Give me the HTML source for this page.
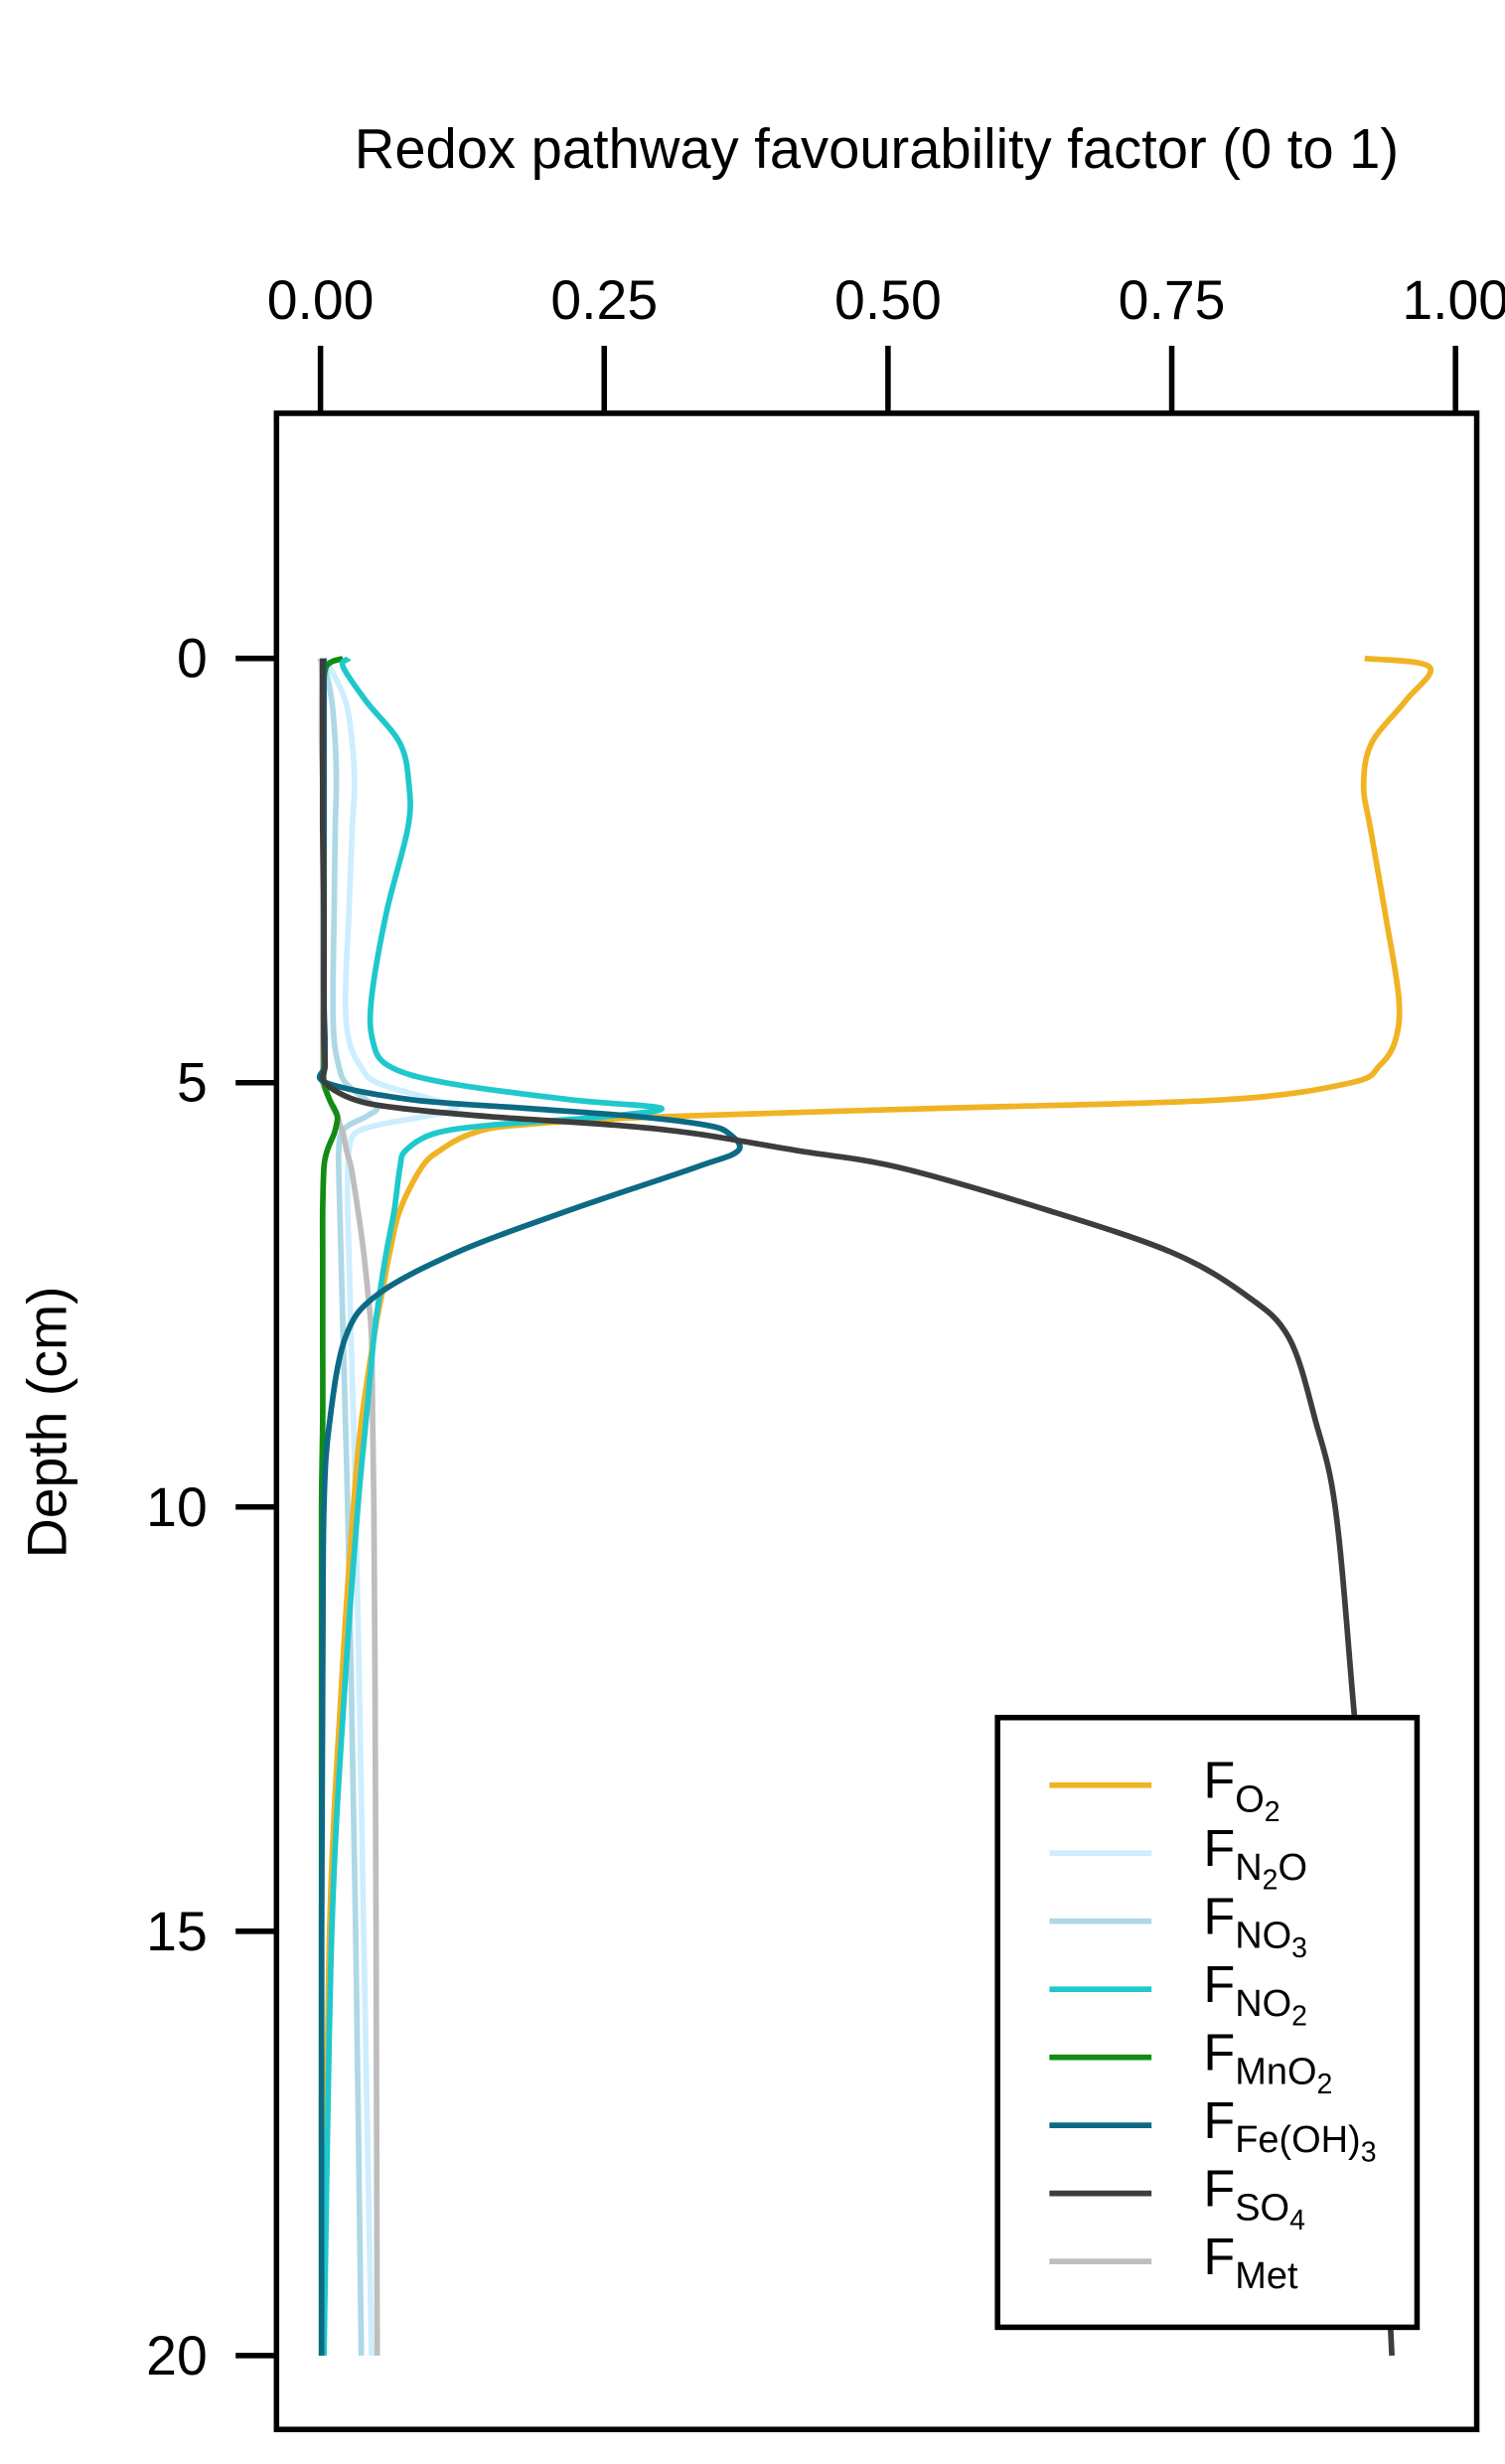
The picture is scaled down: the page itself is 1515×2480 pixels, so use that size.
<!DOCTYPE html>
<html><head><meta charset="utf-8"><style>
html,body{margin:0;padding:0;background:#fff}
svg{display:block;font-family:"Liberation Sans",Arial,sans-serif}
</style></head><body>
<svg id="chart" width="1515" height="2480" viewBox="0 0 958 1568" preserveAspectRatio="none" xmlns="http://www.w3.org/2000/svg">
<text x="558" y="107" font-size="35.5" text-anchor="middle">Redox pathway favourability factor (0 to 1)</text>
<text transform="translate(42,905) rotate(-90)" font-size="35" text-anchor="middle">Depth (cm)</text>
<rect x="176" y="263" width="764" height="1283" fill="none" stroke="#000" stroke-width="3.5"/>
<g id="xaxis"></g>
<g id="yaxis"></g>
<g id="series"></g>
<g id="legend">
<rect x="635" y="1093" width="267" height="388" fill="#fff" stroke="#000" stroke-width="3.5"/>
</g>
</svg>
<script>
const depths=[0,0.1,0.5,1,1.5,2,3,4,4.5,4.8,5,5.2,5.3,5.4,5.5,5.6,5.8,6,6.5,7,7.5,8,9,10,12,15,20];
const fO2=[0.92,0.977,0.956,0.926,0.919,0.925,0.938,0.95,0.947,0.933,0.908,0.797,0.548,0.3,0.174,0.133,0.105,0.089,0.07,0.061,0.054,0.047,0.036,0.029,0.019,0.008,0.003];
const fN2O=[0.003,0.008,0.022,0.028,0.03,0.028,0.025,0.022,0.025,0.035,0.05,0.1,0.12,0.09,0.05,0.03,0.025,0.024,0.024,0.025,0.026,0.027,0.029,0.031,0.034,0.038,0.045];
const fNO3=[0.002,0.004,0.01,0.013,0.014,0.013,0.012,0.011,0.012,0.016,0.022,0.04,0.05,0.04,0.025,0.018,0.016,0.016,0.017,0.018,0.019,0.02,0.022,0.024,0.027,0.031,0.036];
const fNO2=[0.025,0.02,0.04,0.07,0.078,0.077,0.058,0.045,0.046,0.06,0.11,0.22,0.3,0.25,0.15,0.1,0.075,0.07,0.065,0.058,0.052,0.047,0.04,0.033,0.022,0.01,0.003];
const fMnO2=[0.02,0.005,0.003,0.003,0.003,0.003,0.003,0.003,0.003,0.003,0.003,0.008,0.012,0.015,0.014,0.012,0.006,0.003,0.002,0.002,0.002,0.002,0.002,0.001,0.001,0.001,0.001];
const fFe=[0.003,0.003,0.003,0.003,0.003,0.003,0.003,0.003,0.004,0.004,0.005,0.08,0.18,0.28,0.34,0.36,0.368,0.33,0.22,0.12,0.05,0.022,0.008,0.003,0.002,0.001,0.001];
const fSO4=[0.002,0.002,0.002,0.002,0.002,0.002,0.003,0.003,0.003,0.004,0.004,0.03,0.07,0.15,0.26,0.33,0.42,0.51,0.64,0.75,0.815,0.853,0.877,0.894,0.908,0.925,0.944];
const fMet=[0,0.001,0.001,0.001,0.002,0.002,0.002,0.002,0.002,0.002,0.002,0.008,0.011,0.015,0.017,0.02,0.023,0.027,0.033,0.038,0.042,0.045,0.046,0.047,0.048,0.049,0.05];
const xTicks=[0,0.25,0.5,0.75,1];
const xTickLabels=["0.00","0.25","0.50","0.75","1.00"];
const yTicks=[0,5,10,15,20];
const seriesNames=["O2","N2O","NO3","NO2","MnO2","Fe(OH)3","SO4","Met"];
const seriesValues=[fO2,fN2O,fNO3,fNO2,fMnO2,fFe,fSO4,fMet];
const seriesColors=["#F0B323","#CCEEFF","#ADD8E6","#1FC8CC","#128C12","#0C6A85","#3D3D3D","#BEBEBE"];

const NS="http://www.w3.org/2000/svg";
const X=v=>204+v*722.5;
const Y=d=>419+d*54;
function mk(tag,attrs,parent){const e=document.createElementNS(NS,tag);for(const k in attrs)e.setAttribute(k,attrs[k]);parent.appendChild(e);return e;}
function smooth(p){
 let d='M'+p[0][0].toFixed(1)+','+p[0][1].toFixed(1);
 for(let i=0;i<p.length-1;i++){
  const p0=p[i-1]||p[i],p1=p[i],p2=p[i+1],p3=p[i+2]||p2;
  const c1=[p1[0]+(p2[0]-p0[0])/6,p1[1]+(p2[1]-p0[1])/6];
  const c2=[p2[0]-(p3[0]-p1[0])/6,p2[1]-(p3[1]-p1[1])/6];
  d+='C'+c1.map(v=>v.toFixed(1)).join(',')+' '+c2.map(v=>v.toFixed(1)).join(',')+' '+p2.map(v=>v.toFixed(1)).join(',');
 }
 return d;
}
const xa=document.getElementById('xaxis');
xTicks.forEach((t,i)=>{
 const l=mk('line',{x1:X(t),x2:X(t),y1:220,y2:263,stroke:'#000','stroke-width':3.5},xa);
 
 
 const tx=mk('text',{x:X(t),y:203,'font-size':35,'text-anchor':'middle'},xa);
 
 
 tx.textContent=xTickLabels[i];
});
const ya=document.getElementById('yaxis');
yTicks.forEach(t=>{
 const l=mk('line',{x1:150,x2:176,y1:Y(t),y2:Y(t),stroke:'#000','stroke-width':3.5},ya);
 
 
 const tx=mk('text',{x:132,y:Y(t)+12,'font-size':35,'text-anchor':'end'},ya);
 
 
 tx.textContent=String(t);
});
const sg=document.getElementById('series');
const order=[1,2,7,4,0,3,5,6];
order.forEach(i=>{
 const pts=seriesValues[i].map((v,j)=>[X(v),Y(depths[j])]);
 const p=mk('path',{d:smooth(pts),fill:'none',stroke:seriesColors[i],'stroke-width':3.6,'stroke-linejoin':'round'},sg);
 
 
});
const lg=document.getElementById('legend');
const subs=[["O",["2"]],["N",["2"],"O"],["NO",["3"]],["NO",["2"]],["MnO",["2"]],["Fe(OH)",["3"]],["SO",["4"]],["Met"]];
seriesNames.forEach((n,i)=>{
 const y=1136+i*43.3;
 const l=mk('line',{x1:668,x2:733,y1:y,y2:y,stroke:seriesColors[i],'stroke-width':3.6},lg);
 
 
 const t=mk('text',{x:766,y:y+8,'font-size':33},lg);
 
 
 let html='F<tspan font-size="24" dy="9">';
 const s=subs[i];
 html+=s[0];
 if(s[1])html+='<tspan font-size="18" dy="6">'+s[1][0]+'</tspan>';
 if(s[2])html+='<tspan dy="-6">'+s[2]+'</tspan>';
 html+='</tspan>';
 t.innerHTML=html;
});
</script>
</body></html>
